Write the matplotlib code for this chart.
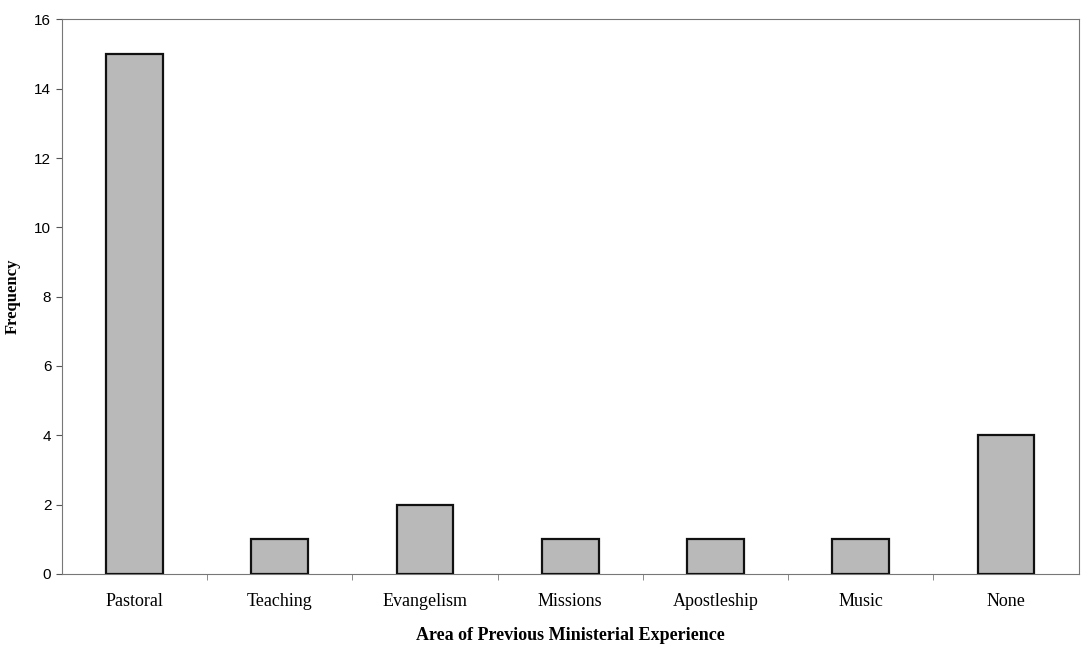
import matplotlib
matplotlib.use("Agg")
import matplotlib.pyplot as plt

categories = ["Pastoral", "Teaching", "Evangelism", "Missions",
              "Apostleship", "Music", "None"]
frequency = [15, 1, 2, 1, 1, 1, 4]

fig = plt.figure(figsize=(10.82, 6.47), dpi=100)
ax = fig.add_axes([0.057, 0.113, 0.94, 0.857])

x = list(range(len(categories)))
ax.bar(x, frequency, width=0.39, color="#b9b9b9", edgecolor="#111111",
       linewidth=1.6, zorder=3)

ax.set_xlim(-0.5, len(categories) - 0.5)
ax.set_ylim(0, 16)
ax.set_yticks(range(0, 17, 2))
ax.set_xticks(x)
ax.set_xticklabels(categories, family="Liberation Serif", fontsize=13)
ax.set_xticks([i + 0.5 for i in x[:-1]], minor=True)
ax.tick_params(axis="x", which="major", length=0, pad=14)
ax.tick_params(axis="x", which="minor", length=4, color="#777777")
ax.tick_params(axis="y", length=4, color="#555555", labelsize=11)
for lab in ax.get_yticklabels():
    lab.set_family("Liberation Sans")

for s in ax.spines.values():
    s.set_color("#777777")
    s.set_linewidth(0.8)

ax.set_ylabel("Frequency", family="Liberation Serif", fontweight="bold",
              fontsize=12, labelpad=10)
ax.set_xlabel("Area of Previous Ministerial Experience", family="Liberation Serif",
              fontweight="bold", fontsize=13, labelpad=12)

fig.savefig("out.png", dpi=100)
